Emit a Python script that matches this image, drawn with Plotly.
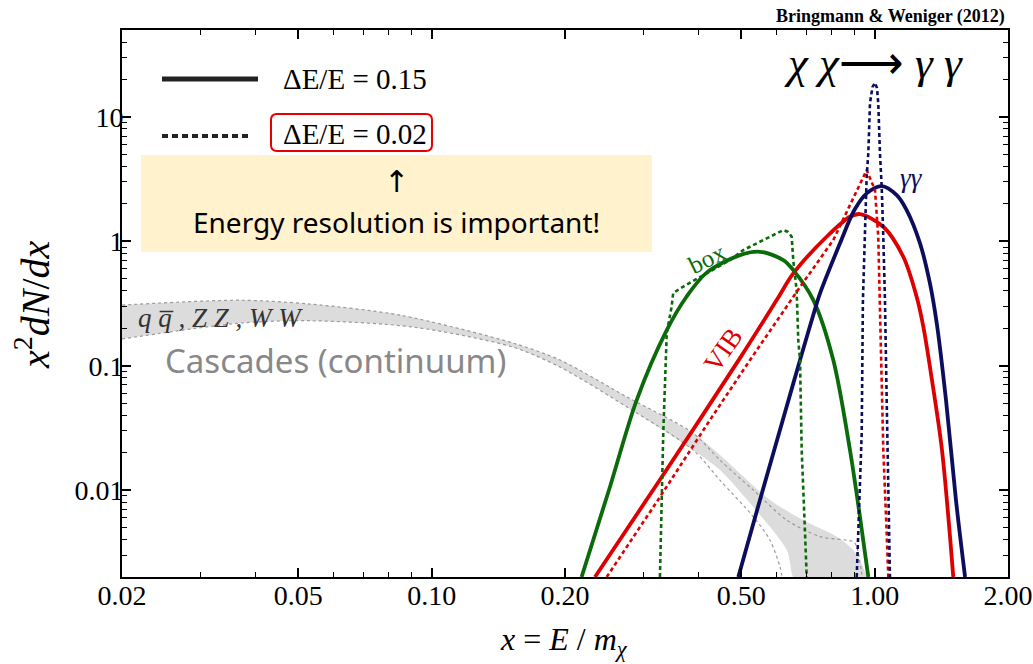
import numpy as np
import plotly.graph_objects as go

# x = E / m_chi ; y = x^2 dN/dx

# Continuum from cascade decays (q qbar, ZZ, WW): upper / lower edges
cascade_hi_x = [0.02, 0.0369, 0.0531, 0.0848, 0.1527, 0.1949, 0.2761, 0.389, 0.4476, 0.5322, 0.6331, 0.7528, 0.895, 0.911, 0.9412]
cascade_hi_y = [0.307, 0.336, 0.313, 0.255, 0.152, 0.111, 0.056, 0.0287, 0.0174, 0.0100, 0.00574, 0.00422, 0.00384, 0.0035, 0.0018]
cascade_lo_x = [0.02, 0.0369, 0.0531, 0.0908, 0.1527, 0.1949, 0.2761, 0.389, 0.4476, 0.5322, 0.5803, 0.6113, 0.621]
cascade_lo_y = [0.164, 0.220, 0.230, 0.2045, 0.141, 0.0975, 0.0465, 0.021, 0.0120, 0.0061, 0.00397, 0.00242, 0.0018]

# Shaded region spanned by the cascade spectra
band_top_x = [0.02, 0.0369, 0.0531, 0.0848, 0.1527, 0.1949, 0.2761, 0.389, 0.4476, 0.5803, 0.6891, 0.8209, 0.895, 0.9412, 0.9594]
band_top_y = [0.307, 0.336, 0.313, 0.255, 0.152, 0.111, 0.056, 0.0287, 0.0191, 0.00832, 0.00574, 0.00422, 0.0033, 0.0024, 0.0018]
band_bot_x = [0.02, 0.0369, 0.0531, 0.0908, 0.1527, 0.1949, 0.2761, 0.389, 0.4476, 0.5322, 0.6331, 0.6668]
band_bot_y = [0.164, 0.220, 0.230, 0.2045, 0.141, 0.0975, 0.0465, 0.021, 0.0145, 0.0073, 0.0033, 0.0018]

# Box-shaped spectrum, dE/E = 0.15 and 0.02
box_wide_x = [0.218, 0.2527, 0.2903, 0.3394, 0.3764, 0.4177, 0.4966, 0.5509, 0.622, 0.6552, 0.7271, 0.8065, 0.8796, 0.9267, 0.9676]
box_wide_y = [0.002, 0.01064, 0.0529, 0.193, 0.36, 0.56, 0.775, 0.824, 0.707, 0.587, 0.337, 0.111, 0.021, 0.00607, 0.002]
box_narrow_x = [0.3276, 0.3333, 0.3394, 0.3481, 0.351, 0.3693, 0.4716, 0.5052, 0.622, 0.6375, 0.6497, 0.6552, 0.6668, 0.6724, 0.6785, 0.6844, 0.6964, 0.7025]
box_narrow_y = [0.002, 0.0287, 0.183, 0.298, 0.384, 0.431, 0.707, 0.850, 1.231, 1.19, 1.088, 0.70, 0.40, 0.16, 0.111, 0.021, 0.00452, 0.002]

# Virtual internal bremsstrahlung, dE/E = 0.15 and 0.02
vib_wide_x = [0.2337, 0.3276, 0.4966, 0.601, 0.6552, 0.7792, 0.8796, 0.9267, 1.046, 1.1606, 1.244, 1.288, 1.347, 1.419, 1.505]
vib_wide_y = [0.002, 0.0121, 0.115, 0.337, 0.552, 1.088, 1.575, 1.656, 1.309, 0.751, 0.358, 0.2056, 0.0767, 0.021, 0.002]
vib_narrow_x = [0.2484, 0.3276, 0.4249, 0.5232, 0.6785, 0.8065, 0.9594, 1.0018, 1.019, 1.028, 1.0373, 1.046, 1.0646, 1.0735]
vib_narrow_y = [0.002, 0.00879, 0.0366, 0.111, 0.429, 1.023, 3.739, 2.582, 1.088, 0.337, 0.0767, 0.021, 0.00452, 0.002]

# Gamma-ray line, dE/E = 0.15 and 0.02
gg_wide_x = [0.4923, 0.5509, 0.6552, 0.6785, 0.7401, 0.7528, 0.8352, 0.90, 0.9594, 1.0373, 1.1216, 1.181, 1.266, 1.333, 1.381, 1.449, 1.526, 1.600]
gg_wide_y = [0.002, 0.00832, 0.0721, 0.111, 0.317, 0.3815, 0.963, 1.783, 2.429, 2.781, 2.353, 1.783, 0.963, 0.459, 0.2195, 0.0529, 0.00832, 0.002]
gg_narrow_x = [0.911, 0.9186, 0.935, 0.9409, 0.951, 0.9594, 0.9676, 0.9761, 0.9888, 1.0018, 1.0123, 1.019, 1.028, 1.0373, 1.046, 1.0551, 1.0646, 1.0735, 1.0829]
gg_narrow_y = [0.002, 0.00452, 0.0287, 0.337, 1.482, 3.303, 5.12, 12.92, 17.37, 18.82, 17.06, 12.92, 5.12, 2.745, 1.088, 0.337, 0.0529, 0.01204, 0.002]

# Axis ticks
x_major = [0.02, 0.05, 0.1, 0.2, 0.5, 1.0, 2.0]
x_major_text = ["0.02", "0.05", "0.10", "0.20", "0.50", "1.00", "2.00"]
x_minor = [0.03, 0.04, 0.06, 0.07, 0.08, 0.09, 0.3, 0.4, 0.6, 0.7, 0.8, 0.9]
y_major = [0.01, 0.1, 1, 10]
y_major_text = ["0.01", "0.1", "1", "10"]
y_minor = [k * 10.0 ** e for e in range(-3, 2) for k in range(2, 10)]

GREEN = "#0b6b0b"
RED = "#dd0000"
NAVY = "#0d0d5e"
SERIF = "Liberation Serif"
SANS = "Noto Sans"

fig = go.Figure()

# shaded cascade band
fig.add_trace(go.Scatter(
    x=band_top_x + band_bot_x[::-1], y=band_top_y + band_bot_y[::-1],
    mode="lines", fill="toself", fillcolor="#dcdcdc",
    line=dict(width=0, shape="spline", smoothing=0.8), hoverinfo="skip"))
for cx, cy in [(cascade_hi_x, cascade_hi_y), (cascade_lo_x, cascade_lo_y)]:
    fig.add_trace(go.Scatter(x=cx, y=cy, mode="lines",
                             line=dict(color="#9a9a9a", width=1.2, dash="3px,3px",
                                       shape="spline", smoothing=0.8)))

solid = [(box_wide_x, box_wide_y, GREEN), (vib_wide_x, vib_wide_y, RED), (gg_wide_x, gg_wide_y, NAVY)]
dotted = [(box_narrow_x, box_narrow_y, GREEN), (vib_narrow_x, vib_narrow_y, RED), (gg_narrow_x, gg_narrow_y, NAVY)]
for cx, cy, col in solid:
    fig.add_trace(go.Scatter(x=cx, y=cy, mode="lines",
                             line=dict(color=col, width=3.8, shape="spline", smoothing=0.9)))
for cx, cy, col in dotted:
    fig.add_trace(go.Scatter(x=cx, y=cy, mode="lines",
                             line=dict(color=col, width=2.6, dash="4px,3px")))

PL, PR, PT, PB = 122, 1008, 30, 577
W, H = PR - PL, PB - PT


def px(xp):
    return (xp - PL) / W


def py(yp):
    return (PB - yp) / H


axis_common = dict(
    showline=True, linecolor="black", linewidth=2, mirror="ticks",
    ticks="inside", ticklen=9, tickwidth=1.5, tickcolor="black",
    showgrid=False, zeroline=False, automargin=False,
    tickfont=dict(family=SERIF, size=28, color="black"),
)

fig.update_xaxes(type="log", range=[np.log10(0.02), np.log10(2.0)],
                 tickmode="array", tickvals=x_major, ticktext=x_major_text,
                 minor=dict(tickmode="array", tickvals=x_minor, ticks="inside",
                            ticklen=5, tickwidth=1.2, tickcolor="black"),
                 ticklabelstandoff=-8, **axis_common)
fig.update_yaxes(type="log", range=[np.log10(0.002), np.log10(50)],
                 tickmode="array", tickvals=y_major, ticktext=y_major_text,
                 minor=dict(tickmode="array", tickvals=y_minor, ticks="inside",
                            ticklen=5, tickwidth=1.2, tickcolor="black"),
                 ticklabelstandoff=-9, **axis_common)

# rounded red frame around the dE/E = 0.02 legend text
x0, x1, y0, y1 = px(271), px(432), py(151), py(114)
rx, ry = 6 / W, 6 / H
rounded = (f"M {x0+rx},{y0} L {x1-rx},{y0} Q {x1},{y0} {x1},{y0+ry} "
           f"L {x1},{y1-ry} Q {x1},{y1} {x1-rx},{y1} L {x0+rx},{y1} "
           f"Q {x0},{y1} {x0},{y1-ry} L {x0},{y0+ry} Q {x0},{y0} {x0+rx},{y0} Z")

shapes = [
    dict(type="rect", xref="paper", yref="paper", x0=px(141), x1=px(652), y0=py(252), y1=py(155),
         fillcolor="#fff2cc", line=dict(width=0), layer="below"),
    dict(type="line", xref="paper", yref="paper", x0=px(162), x1=px(258), y0=py(79), y1=py(79),
         line=dict(color="#222222", width=5)),
    dict(type="line", xref="paper", yref="paper", x0=px(162), x1=px(251), y0=py(136), y1=py(136),
         line=dict(color="#222222", width=4, dash="6px,4px")),
    dict(type="path", xref="paper", yref="paper", path=rounded,
         line=dict(color="#e60000", width=2)),
]


def note(text, xp, yp, size, family=SERIF, color="black", xanchor="center", angle=0):
    return dict(text=text, x=px(xp), y=py(yp), xref="paper", yref="paper",
                xanchor=xanchor, yanchor="middle", showarrow=False, textangle=angle,
                font=dict(family=family, size=size, color=color))


annotations = [
    note("<b>Bringmann &amp; Weniger (2012)</b>", 1007, 16, 18, xanchor="right"),
    note("<i>χ χ</i>⟶ <i>γ γ</i>", 873, 63, 45),
    note("ΔE/E = 0.15", 281, 79, 29, xanchor="left"),
    note("ΔE/E = 0.02", 281, 134, 29, xanchor="left"),
    note("↑", 396, 181, 30, family="DejaVu Sans"),
    note("Energy resolution is important!", 396, 222, 28, family=SANS),
    note("Cascades (continuum)", 163, 360, 33, family=SANS, color="#888888", xanchor="left"),
    note("<i>q q\u0305 , Z Z , W W</i>", 136, 318, 27, color="#333333", xanchor="left"),
    note("box", 707, 258, 25, color=GREEN, angle=-26),
    note("VIB", 723, 350, 27, color=RED, angle=-55),
    note("<i>γγ</i>", 911, 178, 27, color=NAVY),
    note("<i>x</i> = <i>E</i> / <i>m</i><sub><i>χ</i></sub>", 564, 641, 32),
    note("<i>x</i><sup>2</sup><i>dN</i>/<i>dx</i>", 32, 305, 40, angle=-90),
]

fig.update_layout(
    width=1033, height=664,
    margin=dict(l=PL, r=1033 - PR, t=PT, b=664 - PB),
    paper_bgcolor="white", plot_bgcolor="white",
    showlegend=False,
    shapes=shapes, annotations=annotations,
    font=dict(family=SERIF, color="black"),
)

fig.write_html("out.html")
